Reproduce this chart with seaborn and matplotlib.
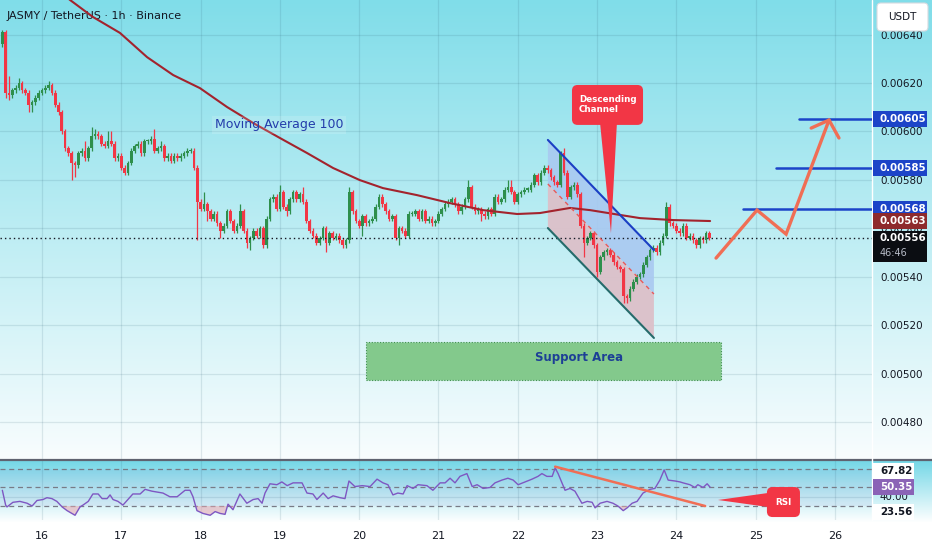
import numpy as np
import pandas as pd
import seaborn as sns
import matplotlib.pyplot as plt
from matplotlib.patches import FancyBboxPatch, Rectangle, Polygon
from matplotlib.transforms import blended_transform_factory
from matplotlib.ticker import FuncFormatter

P = 1e-5  # prices are written in units of 0.00001 USDT

# hourly candles, the first one opens on the 15th at 12:00
first_open = 636
closes = [
    641, 616, 615, 617, 618, 620, 617, 616, 611, 612, 614, 616,
    617, 618, 619, 616, 611, 608, 600, 593, 591, 587, 586, 591,
    592, 589, 593, 598, 599, 598, 595, 594, 596, 595, 589, 590,
    585, 583, 587, 592, 594, 595, 591, 596, 596, 597, 592, 593,
    594, 589, 590, 588, 590, 589, 590, 591, 592, 592, 585, 571,
    568, 570, 567, 564, 566, 562, 559, 561, 567, 563, 559, 561,
    567, 559, 554, 556, 559, 557, 560, 553, 564, 572, 573, 568,
    575, 569, 567, 572, 575, 572, 574, 571, 563, 559, 557, 554,
    556, 560, 554, 558, 556, 557, 555, 553, 555, 575, 567, 563,
    561, 565, 562, 563, 564, 569, 573, 570, 567, 564, 565, 556,
    560, 559, 557, 566, 566, 567, 564, 567, 563, 564, 562, 563,
    566, 568, 570, 571, 572, 570, 567, 569, 572, 577, 569, 567,
    568, 566, 565, 568, 566, 573, 571, 572, 576, 577, 575, 571,
    574, 575, 576, 576, 578, 582, 579, 583, 585, 584, 581, 579,
    578, 591, 583, 573, 577, 578, 574, 561, 554, 556, 558, 553,
    542, 548, 550, 551, 549, 546, 544, 543, 532, 531, 535, 538,
    540, 541, 545, 548, 551, 552, 550, 554, 557, 569, 562, 561,
    559, 558, 561, 556, 557, 555, 553, 556, 555, 558, 556,
]
# wick length above / below the body
wick_up = [
    1, 1, 7, 1, 1, 2, 1, 1, 1, 1, 1, 1,
    1, 1, 2, 1, 1, 1, 1, 1, 1, 1, 1, 1,
    1, 4, 1, 4, 2, 1, 1, 1, 4, 4, 1, 1,
    1, 1, 1, 1, 1, 1, 1, 1, 1, 1, 4, 1,
    2, 1, 1, 1, 1, 1, 1, 1, 1, 1, 1, 1,
    1, 5, 1, 1, 1, 1, 1, 1, 1, 1, 1, 1,
    3, 1, 1, 1, 1, 1, 1, 1, 1, 1, 1, 1,
    3, 1, 1, 1, 1, 1, 1, 3, 1, 1, 1, 1,
    1, 1, 1, 1, 1, 1, 1, 1, 1, 2, 1, 1,
    1, 1, 1, 1, 1, 1, 1, 1, 1, 1, 1, 1,
    1, 1, 1, 1, 1, 1, 1, 1, 1, 1, 1, 1,
    1, 1, 1, 1, 1, 1, 1, 1, 1, 3, 1, 1,
    1, 1, 1, 1, 1, 1, 1, 1, 1, 3, 3, 1,
    1, 1, 1, 1, 1, 1, 1, 1, 1, 1, 1, 1,
    1, 1, 2, 1, 1, 1, 1, 1, 1, 1, 1, 1,
    1, 1, 1, 1, 1, 1, 1, 1, 1, 1, 1, 1,
    1, 1, 1, 1, 1, 1, 1, 1, 1, 2, 1, 1,
    1, 1, 1, 1, 1, 1, 1, 1, 1, 1, 1,
]
wick_dn = [
    1, 2, 2, 1, 1, 1, 1, 1, 3, 3, 1, 1,
    1, 1, 1, 1, 1, 1, 1, 1, 1, 7, 5, 1,
    1, 1, 1, 1, 1, 1, 1, 1, 1, 1, 1, 1,
    1, 1, 1, 1, 1, 1, 1, 1, 1, 1, 1, 1,
    1, 1, 1, 1, 1, 1, 1, 1, 1, 1, 1, 16,
    1, 1, 4, 1, 1, 1, 3, 1, 1, 1, 1, 1,
    1, 1, 2, 3, 1, 1, 1, 1, 1, 1, 1, 1,
    1, 1, 2, 1, 1, 1, 1, 1, 1, 1, 1, 1,
    1, 1, 4, 1, 1, 1, 1, 1, 1, 1, 1, 1,
    1, 4, 1, 1, 1, 1, 1, 1, 1, 1, 1, 1,
    3, 1, 1, 1, 1, 1, 1, 1, 1, 1, 1, 1,
    1, 1, 1, 1, 1, 1, 1, 1, 1, 1, 1, 1,
    1, 3, 1, 1, 1, 1, 1, 1, 1, 1, 1, 1,
    1, 1, 1, 1, 1, 1, 1, 1, 1, 1, 1, 1,
    1, 1, 1, 1, 1, 1, 1, 1, 6, 1, 1, 1,
    2, 1, 1, 1, 1, 1, 1, 1, 3, 2, 1, 1,
    1, 1, 1, 1, 1, 1, 1, 1, 1, 1, 1, 1,
    1, 1, 1, 1, 1, 1, 1, 1, 1, 1, 1,
]

# moving average 100 (hour index, price)
ma_hours = [18.0, 20.5, 27.4, 35.6, 43.8, 51.7, 59.8, 68.0, 75.9, 84.0, 92.2, 100.1, 108.2,
            115.2, 125.5, 135.5, 145.5, 155.8, 162.7, 171.8, 177.9, 187.0, 193.0, 203.0, 214.2]
ma_vals = [657.0, 654.3, 647.3, 640.7, 630.7, 623.3, 617.9, 610.1, 603.5, 597.3, 591.1, 584.9, 579.9,
           576.6, 573.7, 570.4, 567.5, 565.9, 566.3, 568.4, 567.5, 565.5, 564.2, 563.4, 563.0]

# RSI line
rsi_hours = [0.0, 1.0, 1.4, 3.2, 5.3, 7.5, 9.0, 10.5, 12.3, 13.5,
             15.0, 16.5, 18.1, 19.6, 22.0, 23.5, 24.4, 26.0, 27.4, 29.0,
             30.2, 31.7, 32.6, 33.5, 35.0, 36.5, 38.0, 39.5, 41.7, 43.2,
             45.3, 48.6, 50.7, 52.9, 55.3, 56.8, 57.7, 58.9, 60.7, 62.9,
             64.4, 65.9, 67.4, 68.3, 69.8, 71.9, 74.0, 75.9, 77.4, 78.6,
             79.5, 81.0, 83.1, 84.6, 86.2, 88.0, 90.7, 92.2, 94.0, 95.2,
             97.1, 98.6, 100.1, 102.2, 103.7, 104.9, 106.7, 108.9, 111.3, 113.4,
             115.2, 116.7, 118.2, 119.7, 121.3, 122.5, 124.3, 125.8, 128.5, 130.3,
             132.5, 134.0, 135.5, 137.0, 138.5, 140.6, 142.2, 143.7, 145.5, 147.6,
             149.1, 151.2, 153.0, 154.6, 156.1, 158.2, 160.3, 162.1, 163.3, 164.8,
             166.4, 167.3, 168.2, 170.3, 171.8, 173.3, 175.4, 177.0, 178.5, 179.4,
             180.9, 183.0, 184.8, 186.3, 187.9, 189.1, 190.6, 192.1, 193.9, 196.0,
             197.5, 199.0, 200.3, 201.5, 203.6, 205.1, 206.0, 208.1, 209.6, 210.5,
             212.1, 213.3, 214.2]
rsi_vals = [47, 31, 29, 34, 35, 33, 30, 36, 37, 39,
            38, 35, 29, 25, 20, 29, 31, 35, 43, 43,
            38, 38, 42, 37, 35, 31, 37, 43, 43, 48,
            46, 44, 40, 40, 47, 47, 40, 25, 22, 20,
            24, 22, 21, 32, 26, 43, 33, 37, 38, 33,
            44, 54, 53, 56, 52, 55, 55, 44, 43, 37,
            44, 38, 41, 39, 38, 57, 51, 52, 51, 59,
            55, 53, 42, 44, 43, 52, 49, 53, 52, 47,
            55, 55, 60, 55, 62, 65, 51, 53, 49, 50,
            55, 58, 60, 58, 53, 56, 59, 62, 65, 62,
            62, 71, 65, 47, 49, 46, 33, 35, 34, 28,
            33, 35, 33, 30, 25, 28, 33, 35, 44, 48,
            49, 58, 69, 58, 57, 56, 55, 53, 50, 53,
            50, 54, 50.35]

day_labels = ['16', '17', '18', '19', '20', '21', '22', '23', '24', '25', '26']
day_hours = [12, 36, 60, 84, 108, 132, 156, 180, 204, 228, 252]
price_ticks = [480, 500, 520, 540, 560, 580, 600, 620, 640]

last_price = 556
ma_last = 563
rsi_last = 50.35
rsi_marks = [67.82, 23.56]

targets = [605, 585, 568]
target_from = [241.1, 234.2, 224.2]

support_hours = [110.1, 217.5]
support_prices = [497.5, 513.0]

chan_hours = [165.1, 197.2]
chan_top = [596.5, 551.0]
chan_bot = [560.1, 514.7]

proj_hours = [216.0, 228.4, 237.2, 250.2]
proj_prices = [547.7, 567.5, 557.6, 604.7]
head_hours = [244.8, 250.2, 253.2]
head_prices = [601.4, 604.7, 597.3]

rsi_trend_hours = [167.3, 212.7]
rsi_trend_vals = [72.5, 30.0]

# ---------------------------------------------------------------
sns.set_style('white')
plt.rcParams['font.family'] = ['DejaVu Sans']

df = pd.DataFrame({'close': np.array(closes, float)})
df['open'] = [first_open] + closes[:-1]
df['high'] = df[['open', 'close']].max(axis=1) + np.array(wick_up)
df['low'] = df[['open', 'close']].min(axis=1) - np.array(wick_dn)
df = df * P
df['t'] = np.arange(len(df))
df['up'] = df['close'] >= df['open']

W, H = 932, 550
fig = plt.figure(figsize=(W / 100, H / 100), dpi=100)

# background gradient (main pane + rsi pane)
top = np.array([128, 221, 233]) / 255
bot = np.array([249, 253, 254]) / 255
grad = np.ones((H, 1, 3))
for r in range(H):
    if r <= 459:
        t = r / 459
        grad[r, 0] = top * (1 - t) + bot * t
    elif 461 <= r <= 522:
        t = (r - 461) / 61
        grad[r, 0] = (np.array([118, 216, 231]) / 255) * (1 - t) + np.ones(3) * t
bg = fig.add_axes([0, 0, 1, 1], zorder=-10)
bg.imshow(grad, aspect='auto', extent=[0, 1, 0, 1])
bg.axhline(1 - 460 / H, color='#5f6370', lw=1.6)
bg.axvline(872 / W, ymin=1 - 520 / H, ymax=1, color='white', lw=1)
bg.set_xlim(0, 1)
bg.set_ylim(0, 1)
bg.axis('off')

ax = fig.add_axes([0, 1 - 459 / H, 872 / W, 459 / H])
rx = fig.add_axes([0, 1 - 520 / H, 872 / W, 59 / H])
for a in (ax, rx):
    a.set_facecolor('none')
    for s in a.spines.values():
        s.set_visible(False)
    a.set_xlim(-0.71, 263.2)

ax.set_ylim(464.7 * P, 654.3 * P)
rx.set_ylim(14.9, 78.6)
px_p = (654.3 - 464.7) * P / 459      # price per pixel
px_h = 263.9 / 872                    # hours per pixel
px_r = (78.6 - 14.9) / 59             # rsi per pixel

gridc = (0.16, 0.35, 0.43, 0.13)
for v in price_ticks:
    ax.axhline(v * P, color=gridc, lw=0.9, zorder=0)
for d in day_hours:
    ax.axvline(d, color=gridc, lw=0.9, zorder=0)
    rx.axvline(d, color=gridc, lw=0.9, zorder=0)
rx.axhline(40, color=gridc, lw=0.9, zorder=0)

# support area
ax.add_patch(Rectangle((support_hours[0], support_prices[0] * P),
                       support_hours[1] - support_hours[0],
                       (support_prices[1] - support_prices[0]) * P,
                       fc='#83c98c', ec='#3f8f4f', lw=0.8, ls=(0, (1, 1.5)), zorder=1))
ax.text(174.4, 506.6 * P, 'Support Area', color='#1d3f96', fontsize=8.5,
        fontweight='bold', ha='center', va='center', zorder=2)

# descending channel
mid = [(a + b) / 2 for a, b in zip(chan_top, chan_bot)]
ax.fill([chan_hours[0], chan_hours[1], chan_hours[1], chan_hours[0]],
        [chan_top[0] * P, chan_top[1] * P, mid[1] * P, mid[0] * P],
        color='#a9c9f1', alpha=0.9, lw=0, zorder=1)
ax.fill([chan_hours[0], chan_hours[1], chan_hours[1], chan_hours[0]],
        [mid[0] * P, mid[1] * P, chan_bot[1] * P, chan_bot[0] * P],
        color='#dcc0c9', alpha=0.95, lw=0, zorder=1)

# candles
colors = np.where(df['up'], '#2e8f4c', '#f23645')
ax.vlines(df['t'], df['low'], df['high'], colors=colors, lw=0.9, zorder=3)
body = np.maximum((df['close'] - df['open']).abs(), 0.5 * P)
ax.bar(df['t'], body, bottom=df[['open', 'close']].min(axis=1), width=0.8,
       color=colors, lw=0, zorder=3)

ax.plot(chan_hours, np.array(chan_top) * P, color='#1b3fc4', lw=1.5, zorder=5)
ax.plot(chan_hours, np.array(chan_bot) * P, color='#256b6b', lw=1.5, zorder=5)
ax.plot(chan_hours, np.array(mid) * P, color='#e85a5a', lw=1, ls=(0, (3, 3)), zorder=5)

# MA 100
sns.lineplot(x=ma_hours, y=np.array(ma_vals) * P, ax=ax, color='#a3232d', lw=1.5, zorder=4)
ax.text(83.7, 602.7 * P, 'Moving Average 100', color='#233cab', fontsize=9,
        ha='center', va='center', zorder=6,
        bbox=dict(fc='white', alpha=0.15, ec='none', pad=2))

ax.axhline(last_price * P, color='#131722', lw=1, ls=(0, (1, 2.2)), zorder=4)

# targets and projection
for lvl, h0 in zip(targets, target_from):
    ax.plot([h0, 263.2], [lvl * P, lvl * P], color='#1c44c8', lw=1.8, zorder=5)
ax.plot(proj_hours, np.array(proj_prices) * P, color='#f06e55', lw=2.4,
        solid_joinstyle='miter', zorder=6)
ax.plot(head_hours, np.array(head_prices) * P, color='#f06e55', lw=2.4, zorder=6)

# "Descending Channel" callout
red = '#f23645'
ax.add_patch(FancyBboxPatch((172.4, 602.7 * P), 21.5, 16.5 * P,
                            boxstyle='round,pad=0,rounding_size=1.7',
                            mutation_aspect=px_p / px_h, fc=red, ec='none', zorder=7))
ax.add_patch(Polygon([(180.9, 603.5 * P), (186.0, 603.5 * P), (184.2, 558.0 * P)],
                     closed=True, fc=red, ec='none', zorder=7))
ax.text(183.2, 611.0 * P, 'Descending\nChannel', color='white', fontsize=6.3,
        fontweight='bold', ha='center', va='center', multialignment='left',
        linespacing=1.15, zorder=8)

# title
ax.text(7 / 872, 1 - 16 / 459, 'JASMY / TetherUS \u00b7 1h \u00b7 Binance', transform=ax.transAxes,
        fontsize=8, color='#131722', va='center', ha='left')

# price axis
ax.yaxis.tick_right()
ax.set_yticks([v * P for v in price_ticks])
ax.yaxis.set_major_formatter(FuncFormatter(lambda v, p: f'{v:.5f}'))
ax.tick_params(axis='y', length=0, pad=6, labelsize=7.5, labelcolor='#131722')
ax.tick_params(axis='x', bottom=False, labelbottom=False)
ax.set_xticks([])

tr = blended_transform_factory(ax.transAxes, ax.transData)
x0 = 873 / 872
bw = 54 / 872


def tag(a, trans, y, text, fc, tc, hpx, scale, width=bw):
    a.add_patch(Rectangle((x0, y - hpx / 2 * scale), width, hpx * scale, transform=trans,
                          fc=fc, ec='none', clip_on=False, zorder=10))
    a.text(880 / 872, y, text, transform=trans, color=tc, fontsize=7.4,
           fontweight='bold', va='center', ha='left', zorder=11, clip_on=False)


for lvl in targets:
    tag(ax, tr, lvl * P, f'{lvl * P:.5f}', '#1c44c8', 'white', 16, px_p)
tag(ax, tr, ma_last * P, f'{ma_last * P:.5f}', '#8e2a2c', 'white', 16, px_p)
ax.add_patch(Rectangle((x0, (last_price - 24 * 0.413) * P), bw, 31 * px_p, transform=tr,
                       fc='#0b0d12', ec='none', clip_on=False, zorder=10))
ax.text(880 / 872, last_price * P, f'{last_price * P:.5f}', transform=tr, color='white',
        fontsize=7.4, fontweight='bold', va='center', ha='left', zorder=11, clip_on=False)
ax.text(880 / 872, (last_price - 15 * 0.413) * P, '46:46', transform=tr, color='#b8bcc8',
        fontsize=7, va='center', ha='left', zorder=11, clip_on=False)

# USDT box
fig.patches.append(FancyBboxPatch((8.77, 5.19), 0.51, 0.28, transform=fig.dpi_scale_trans,
                                  boxstyle='round,pad=0,rounding_size=0.04',
                                  fc='white', ec='#d6dbe0', lw=0.8, zorder=12))
fig.text(9.025 / 9.32, 5.33 / 5.5, 'USDT', fontsize=7.5, color='#131722',
         ha='center', va='center', zorder=13)

# ---------------- RSI pane ----------------
rx.fill_between([-0.71, 263.2], 30, 70, color='#7e57c2', alpha=0.07, lw=0, zorder=0)
for lv in (70, 50, 30):
    rx.axhline(lv, color='#787b86', lw=0.9, ls=(0, (4, 3)), zorder=1)
rv = np.array(rsi_vals, float)
rx.fill_between(rsi_hours, rv, 30, where=rv < 30, interpolate=True,
                color='#e7a3ad', alpha=0.55, lw=0, zorder=1)
sns.lineplot(x=rsi_hours, y=rv, ax=rx, color='#7e57c2', lw=1.0, zorder=3)
rx.plot(rsi_trend_hours, rsi_trend_vals, color='#f06e55', lw=1.8, zorder=4)

rx.add_patch(FancyBboxPatch((231.4, 18.1), 10.0, 32.4,
                            boxstyle='round,pad=0,rounding_size=1.7',
                            mutation_aspect=px_r / px_h, fc=red, ec='none', zorder=6))
rx.add_patch(Polygon([(216.6, 36.5), (231.8, 44.1), (231.8, 28.9)],
                     closed=True, fc=red, ec='none', zorder=6))
rx.text(236.4, 34.3, 'RSI', color='white', fontsize=6.3, fontweight='bold',
        ha='center', va='center', zorder=7)

rx.set_yticks([])
rx.set_xticks(day_hours)
rx.set_xticklabels(day_labels)
rx.tick_params(axis='x', length=0, pad=8, labelsize=8, labelcolor='#131722')
rx.set_xlabel('')
rx.set_ylabel('')
ax.set_ylabel('')
ax.set_xlabel('')

rt = blended_transform_factory(rx.transAxes, rx.transData)
rx.text(880 / 872, 40, '40.00', transform=rt, color='#131722', fontsize=7.4,
        va='center', ha='left', zorder=5, clip_on=False)
for mv in rsi_marks:
    tag(rx, rt, mv, f'{mv:.2f}', 'white', '#131722', 16, px_r, width=41 / 872)
tag(rx, rt, rsi_last, f'{rsi_last:.2f}', '#8a63b6', 'white', 16, px_r, width=41 / 872)

fig.savefig('out.png', dpi=100)
